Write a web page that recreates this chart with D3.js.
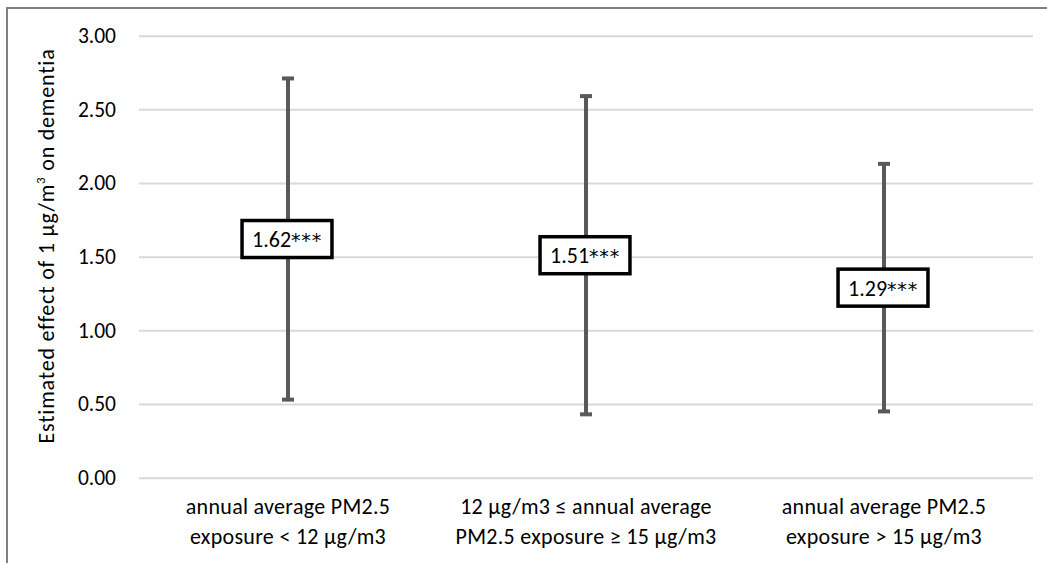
<!DOCTYPE html>
<html lang="en">
  <head>
    <meta charset="utf-8" />
    <title>Estimated effect of PM2.5 on dementia</title>
    <script src="https://d3js.org/d3.v7.min.js"></script>
    <style>
      body { margin: 0; background: #fff; }
      svg { display: block; font-family: Carlito, Calibri, Lato, sans-serif; }
      .grid line { stroke: #d9d9d9; stroke-width: 2px; }
      .grid .domain { display: none; }
    </style>
  </head>
  <body>
    <svg width="1047" height="563"></svg>
  </body>
  <script>
    // Data
    const categories = ['low', 'mid', 'high'];
    const categoryLines = [
      ['annual average PM2.5', 'exposure < 12 µg/m3'],
      ['12 µg/m3 ≤ annual average', 'PM2.5 exposure ≥ 15 µg/m3'],
      ['annual average PM2.5', 'exposure > 15 µg/m3']
    ];
    const estimates = [1.62, 1.51, 1.29];
    const lower = [0.53, 0.43, 0.45];
    const upper = [2.71, 2.59, 2.13];
    const pointLabels = ['1.62***', '1.51***', '1.29***'];
    const yTicks = [0, 0.5, 1, 1.5, 2, 2.5, 3];

    const svg = d3.select('svg');

    // outer frame (bottom and right run off the picture)
    svg.append('rect')
      .attr('x', 7).attr('y', 8)
      .attr('width', 1100).attr('height', 600)
      .attr('fill', 'none')
      .attr('stroke', '#7f7f7f')
      .attr('stroke-width', 2);

    const plotLeft = 139, plotRight = 1033, plotTop = 35.7, plotBottom = 477.7;

    const xScale = d3.scaleBand()
      .domain(categories)
      .range([plotLeft, plotRight])
      .padding(0);

    const yScale = d3.scaleLinear()
      .domain([0, 3])
      .range([plotBottom, plotTop]);

    // horizontal grid lines
    svg.append('g')
      .attr('class', 'grid')
      .attr('transform', `translate(${plotLeft},0)`)
      .call(d3.axisLeft(yScale)
        .tickValues(yTicks)
        .tickSize(-(plotRight - plotLeft))
        .tickFormat(''));

    // y tick labels
    const yAxis = svg.append('g')
      .attr('transform', `translate(${plotLeft},0)`)
      .call(d3.axisLeft(yScale)
        .tickValues(yTicks)
        .tickSize(0)
        .tickPadding(23)
        .tickFormat(d3.format('.2f')));
    yAxis.select('.domain').remove();
    yAxis.selectAll('text')
      .attr('font-size', 21.5)
      .attr('font-family', 'Carlito, Calibri, Lato, sans-serif')
      .attr('fill', '#000');

    // y axis title
    const title = svg.append('text')
      .attr('transform', `translate(54, 246) rotate(-90)`)
      .attr('text-anchor', 'middle')
      .attr('font-size', 22)
      .attr('letter-spacing', 0.8)
      .attr('fill', '#000');
    title.append('tspan').text('Estimated effect of 1 µg/m');
    title.append('tspan').attr('font-size', 13).attr('dy', -9).text('3');
    title.append('tspan').attr('dy', 9).text('  on dementia');

    // category labels
    const cat = svg.append('g');
    categories.forEach((c, i) => {
      const t = cat.append('text')
        .attr('x', xScale(c) + xScale.bandwidth() / 2)
        .attr('y', 514)
        .attr('text-anchor', 'middle')
        .attr('font-size', 22)
        .attr('letter-spacing', 0.3)
        .attr('fill', '#000');
      categoryLines[i].forEach((line, j) => {
        t.append('tspan')
          .attr('x', xScale(c) + xScale.bandwidth() / 2)
          .attr('dy', j === 0 ? 0 : 30)
          .text(line);
      });
    });

    // error bars
    const cx = (i) => xScale(categories[i]) + xScale.bandwidth() / 2;
    const bars = svg.append('g').attr('stroke', '#595959');
    categories.forEach((c, i) => {
      bars.append('line')
        .attr('x1', cx(i)).attr('x2', cx(i))
        .attr('y1', yScale(upper[i])).attr('y2', yScale(lower[i]))
        .attr('stroke-width', 4);
      [upper[i], lower[i]].forEach((v) => {
        bars.append('line')
          .attr('x1', cx(i) - 6).attr('x2', cx(i) + 6)
          .attr('y1', yScale(v)).attr('y2', yScale(v))
          .attr('stroke-width', 4);
      });
    });

    // value labels in boxes
    const boxes = svg.append('g');
    categories.forEach((c, i) => {
      const g = boxes.append('g');
      const rect = g.append('rect');
      const label = pointLabels[i];
      const star = label.indexOf('*');
      const t = g.append('text')
        .attr('x', cx(i) - 1)
        .attr('y', yScale(estimates[i]))
        .attr('dy', '0.36em')
        .attr('text-anchor', 'middle')
        .attr('font-size', 22)
        .attr('fill', '#000');
      t.append('tspan').text(label.slice(0, star));
      t.append('tspan')
        .attr('font-family', '"DejaVu Sans", sans-serif')
        .attr('font-size', 19)
        .attr('letter-spacing', 0.8)
        .text(label.slice(star));
      const w = t.node().getComputedTextLength() + 20;
      rect.attr('x', cx(i) - 1 - w / 2)
        .attr('y', yScale(estimates[i]) - 18.5)
        .attr('width', w)
        .attr('height', 37)
        .attr('fill', '#fff')
        .attr('stroke', '#000')
        .attr('stroke-width', 3.5);
    });
  </script>
</html>
